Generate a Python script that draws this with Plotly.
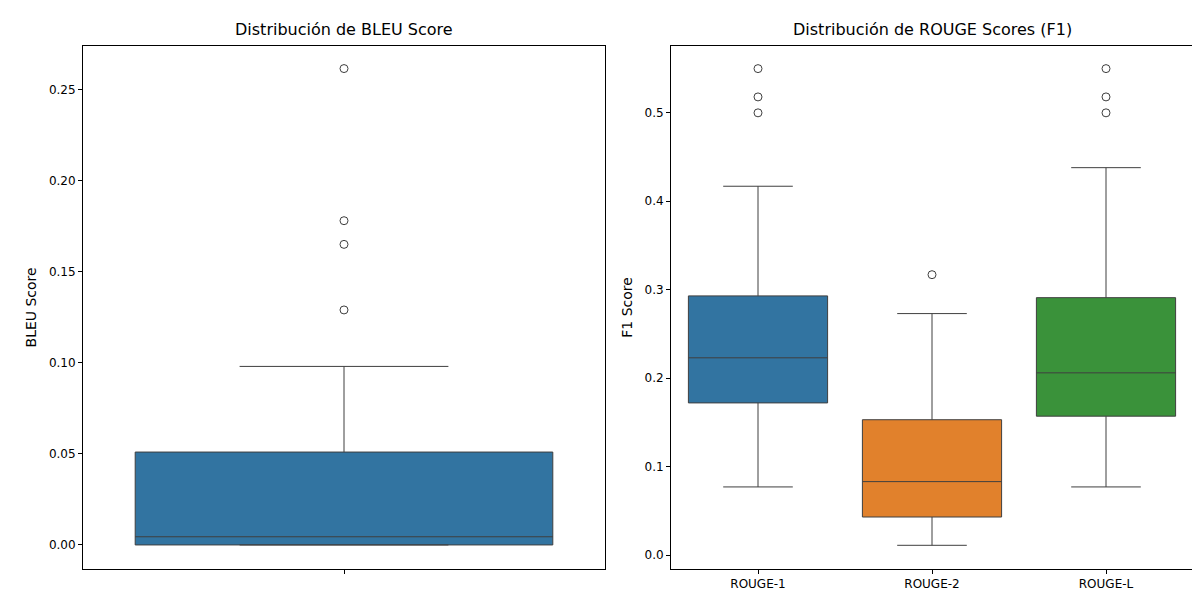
import plotly.graph_objects as go

# BLEU summary
bleu_stats = {"q1": 0.0, "median": 0.0045, "q3": 0.051, "lower": 0.0, "upper": 0.098}
bleu_outliers = [0.2615, 0.178, 0.165, 0.129]

# ROUGE summaries
rouge_names = ["ROUGE-1", "ROUGE-2", "ROUGE-L"]
rouge_q1 = [0.172, 0.043, 0.157]
rouge_med = [0.223, 0.083, 0.206]
rouge_q3 = [0.293, 0.153, 0.291]
rouge_low = [0.077, 0.011, 0.077]
rouge_up = [0.417, 0.273, 0.438]
rouge_outliers = [[0.55, 0.518, 0.5], [0.317], [0.55, 0.518, 0.5]]
colors = ["#3274a1", "#e1812c", "#3a923a"]
edge = "#3f3f3f"

fig = go.Figure()

fig.add_trace(go.Box(
    x=[0], q1=[bleu_stats["q1"]], median=[bleu_stats["median"]], q3=[bleu_stats["q3"]],
    lowerfence=[bleu_stats["lower"]], upperfence=[bleu_stats["upper"]],
    fillcolor=colors[0], line=dict(color=edge, width=1), width=0.8, whiskerwidth=0.5,
    xaxis="x", yaxis="y", showlegend=False, hoverinfo="skip"))
fig.add_trace(go.Scatter(
    x=[0] * len(bleu_outliers), y=bleu_outliers, mode="markers",
    marker=dict(symbol="circle-open", size=8, color=edge, line=dict(width=1)),
    xaxis="x", yaxis="y", showlegend=False))

for i, name in enumerate(rouge_names):
    fig.add_trace(go.Box(
        x=[i], q1=[rouge_q1[i]], median=[rouge_med[i]], q3=[rouge_q3[i]],
        lowerfence=[rouge_low[i]], upperfence=[rouge_up[i]],
        fillcolor=colors[i], line=dict(color=edge, width=1), width=0.8, whiskerwidth=0.5,
        xaxis="x2", yaxis="y2", showlegend=False))
    fig.add_trace(go.Scatter(
        x=[i] * len(rouge_outliers[i]), y=rouge_outliers[i], mode="markers",
        marker=dict(symbol="circle-open", size=8, color=edge, line=dict(width=1)),
        xaxis="x2", yaxis="y2", showlegend=False))

axis_style = dict(showline=True, mirror=True, linecolor="black", linewidth=1,
                  ticks="outside", ticklen=4, tickcolor="black", showgrid=False, zeroline=False)

fig.update_layout(
    width=1200, height=600, margin=dict(l=0, r=0, t=0, b=0),
    plot_bgcolor="white", paper_bgcolor="white",
    font=dict(family="DejaVu Sans", size=12, color="black"),
    boxmode="overlay",
    xaxis=dict(domain=[0.0625, 0.4975], range=[-0.5, 0.5], tickvals=[0], ticktext=[""], **axis_style),
    yaxis=dict(domain=[0.065, 0.937], range=[-0.0132, 0.274], tickvals=[0, 0.05, 0.1, 0.15, 0.2, 0.25],
               tickformat=".2f", title=dict(text="BLEU Score", standoff=8), **axis_style),
    xaxis2=dict(domain=[0.5525, 0.9875], range=[-0.5, 2.5], tickvals=[0, 1, 2], ticktext=rouge_names,
                anchor="y2", **axis_style),
    yaxis2=dict(domain=[0.065, 0.937], range=[-0.0158, 0.5758], tickvals=[0, 0.1, 0.2, 0.3, 0.4, 0.5],
                tickformat=".1f", anchor="x2", title=dict(text="F1 Score", standoff=8), **axis_style),
    annotations=[
        dict(text="Distribución de BLEU Score", x=0.28, y=0.945, xref="paper", yref="paper",
             showarrow=False, xanchor="center", yanchor="bottom", font=dict(size=16)),
        dict(text="Distribución de ROUGE Scores (F1)", x=0.77, y=0.945, xref="paper", yref="paper",
             showarrow=False, xanchor="center", yanchor="bottom", font=dict(size=16)),
    ],
)

fig.write_html("out.html")
